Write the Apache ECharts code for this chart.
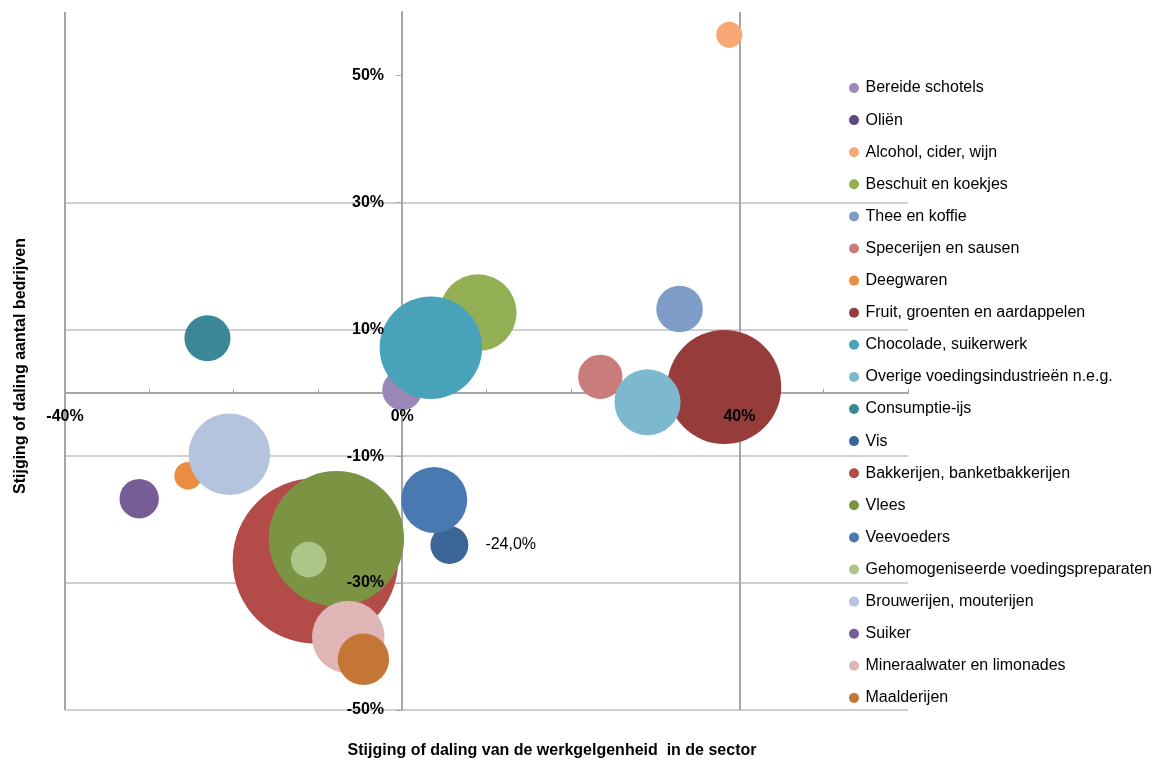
<!DOCTYPE html>
<html>
<head>
<meta charset="utf-8">
<script src="https://cdn.jsdelivr.net/npm/echarts@6/dist/echarts.min.js"></script>
<style>
  html, body { margin: 0; padding: 0; background: #ffffff; }
  #chart { width: 1167px; height: 763px; }
</style>
</head>
<body>
<div id="chart"></div>
<script>
// sectors in legend order
const sectors = [
  "Bereide schotels", "Oliën", "Alcohol, cider, wijn", "Beschuit en koekjes",
  "Thee en koffie", "Specerijen en sausen", "Deegwaren", "Fruit, groenten en aardappelen",
  "Chocolade, suikerwerk", "Overige voedingsindustrieën n.e.g.", "Consumptie-ijs", "Vis",
  "Bakkerijen, banketbakkerijen", "Vlees", "Veevoeders", "Gehomogeniseerde voedingspreparaten",
  "Brouwerijen, mouterijen", "Suiker", "Mineraalwater en limonades", "Maalderijen",
];
// change in employment (%)
const jobChange = [0.0, -10.5, 38.8, 9.0, 32.9, 23.5, -25.4, 38.2, 3.4, 29.1, -23.1, 5.6, -10.3, -7.8, 3.8, -11.1, -20.5, -31.2, -6.4, -4.6];
// change in number of companies (%)
const companyChange = [0.4, -28.0, 56.4, 12.6, 13.2, 2.5, -13.1, 0.9, 7.1, -1.5, 8.6, -24.0, -26.5, -23.0, -16.9, -26.3, -9.7, -16.7, -38.5, -42.0];
// bubble size (employment)
const employment = [1600, 1000, 680, 5930, 2170, 1970, 760, 13000, 10490, 4360, 2120, 1440, 27360, 18330, 4360, 1270, 6660, 1550, 5270, 2640];
const colors = [
  "#9c88b6", "#5f4a7d", "#f7a874", "#92af53", "#7e9cc8", "#c97c7b", "#ea8c42", "#963c3b",
  "#48a2b9", "#7db9ce", "#3b8798", "#3c6597", "#b34b49", "#7a9444", "#4a79b1", "#adc688",
  "#b4c4de", "#775c96", "#dfb6b5", "#c47636",
];
const labelled = ["Vis"];

const FONT = "'Liberation Sans', Arial, sans-serif";
const plotRect = { left: 65, right: 259, top: 12, bottom: 53, outerBoundsMode: "none" };

const chart = echarts.init(document.getElementById("chart"));

const series = sectors.map((name, i) => ({
  name,
  type: "scatter",
  data: [[jobChange[i], companyChange[i], employment[i]]],
  symbolSize: (d) => Math.sqrt(d[2]),
  itemStyle: { color: colors[i], opacity: 1 },
  label: {
    show: labelled.includes(name),
    position: "right",
    distance: 17,
    fontFamily: FONT,
    fontSize: 16,
    color: "#000",
    formatter: (p) => p.value[1].toFixed(1).replace(".", ",") + "%",
  },
  emphasis: { disabled: true },
}));

function labelStyle() {
  return { fontFamily: FONT, fontSize: 16, fontWeight: "bold", color: "#000", formatter: "{value}%", showMaxLabel: false };
}

chart.setOption({
  animation: false,
  backgroundColor: "#ffffff",
  textStyle: { fontFamily: FONT },
  title: {
    text: "Stijging of daling van de werkgelgenheid  in de sector",
    left: 547,
    top: 738,
    textAlign: "center",
    textStyle: { fontFamily: FONT, fontSize: 16, fontWeight: "bold", color: "#000" },
  },
  legend: {
    orient: "vertical",
    left: 844,
    top: 73,
    icon: "circle",
    itemWidth: 13,
    itemHeight: 10,
    itemGap: 12.1,
    textStyle: { fontFamily: FONT, fontSize: 16, lineHeight: 20, color: "#000" },
    data: sectors,
  },
  // grid 0 holds lines and bubbles, grid 1 (same rect) carries the tick labels above the bubbles
  grid: [{ ...plotRect }, { ...plotRect }],
  xAxis: [
    {
      type: "value",
      gridIndex: 0,
      min: -40,
      max: 60,
      interval: 10,
      axisLine: { show: true, onZero: true, lineStyle: { color: "#a6a6a6", width: 2 } },
      axisTick: { show: true, inside: true, length: 4, lineStyle: { color: "#a6a6a6", width: 1 } },
      axisLabel: { show: false },
      splitLine: {
        show: true,
        lineStyle: { color: ["#a6a6a6", "transparent", "transparent", "transparent"], width: 2 },
      },
    },
    {
      type: "value",
      gridIndex: 1,
      min: -40,
      max: 60,
      interval: 40,
      z: 5,
      position: "bottom",
      offset: -318,
      axisLine: { show: false, onZero: false },
      axisTick: { show: false },
      splitLine: { show: false },
      axisLabel: { show: true, margin: 17, ...labelStyle() },
    },
  ],
  yAxis: [
    {
      type: "value",
      gridIndex: 0,
      min: -50,
      max: 60,
      interval: 20,
      name: "Stijging of daling aantal bedrijven",
      nameLocation: "middle",
      nameGap: 36,
      nameTextStyle: { fontFamily: FONT, fontSize: 16, fontWeight: "bold", color: "#000", padding: [0, 10, 0, 0] },
      axisLine: { show: true, onZero: true, lineStyle: { color: "#a6a6a6", width: 2 } },
      axisTick: { show: true, length: 6, customValues: [-50, -30, -10, 10, 30, 50], lineStyle: { color: "#a6a6a6", width: 1 } },
      axisLabel: { show: false },
      splitLine: { show: true, showMaxLine: false, lineStyle: { color: "#d0d0d0", width: 2 } },
    },
    {
      type: "value",
      gridIndex: 1,
      min: -50,
      max: 60,
      interval: 20,
      z: 5,
      position: "left",
      offset: -337,
      axisLine: { show: false, onZero: false },
      axisTick: { show: false },
      splitLine: { show: false },
      axisLabel: { show: true, margin: 18, ...labelStyle() },
    },
  ],
  series,
});
</script>
</body>
</html>
